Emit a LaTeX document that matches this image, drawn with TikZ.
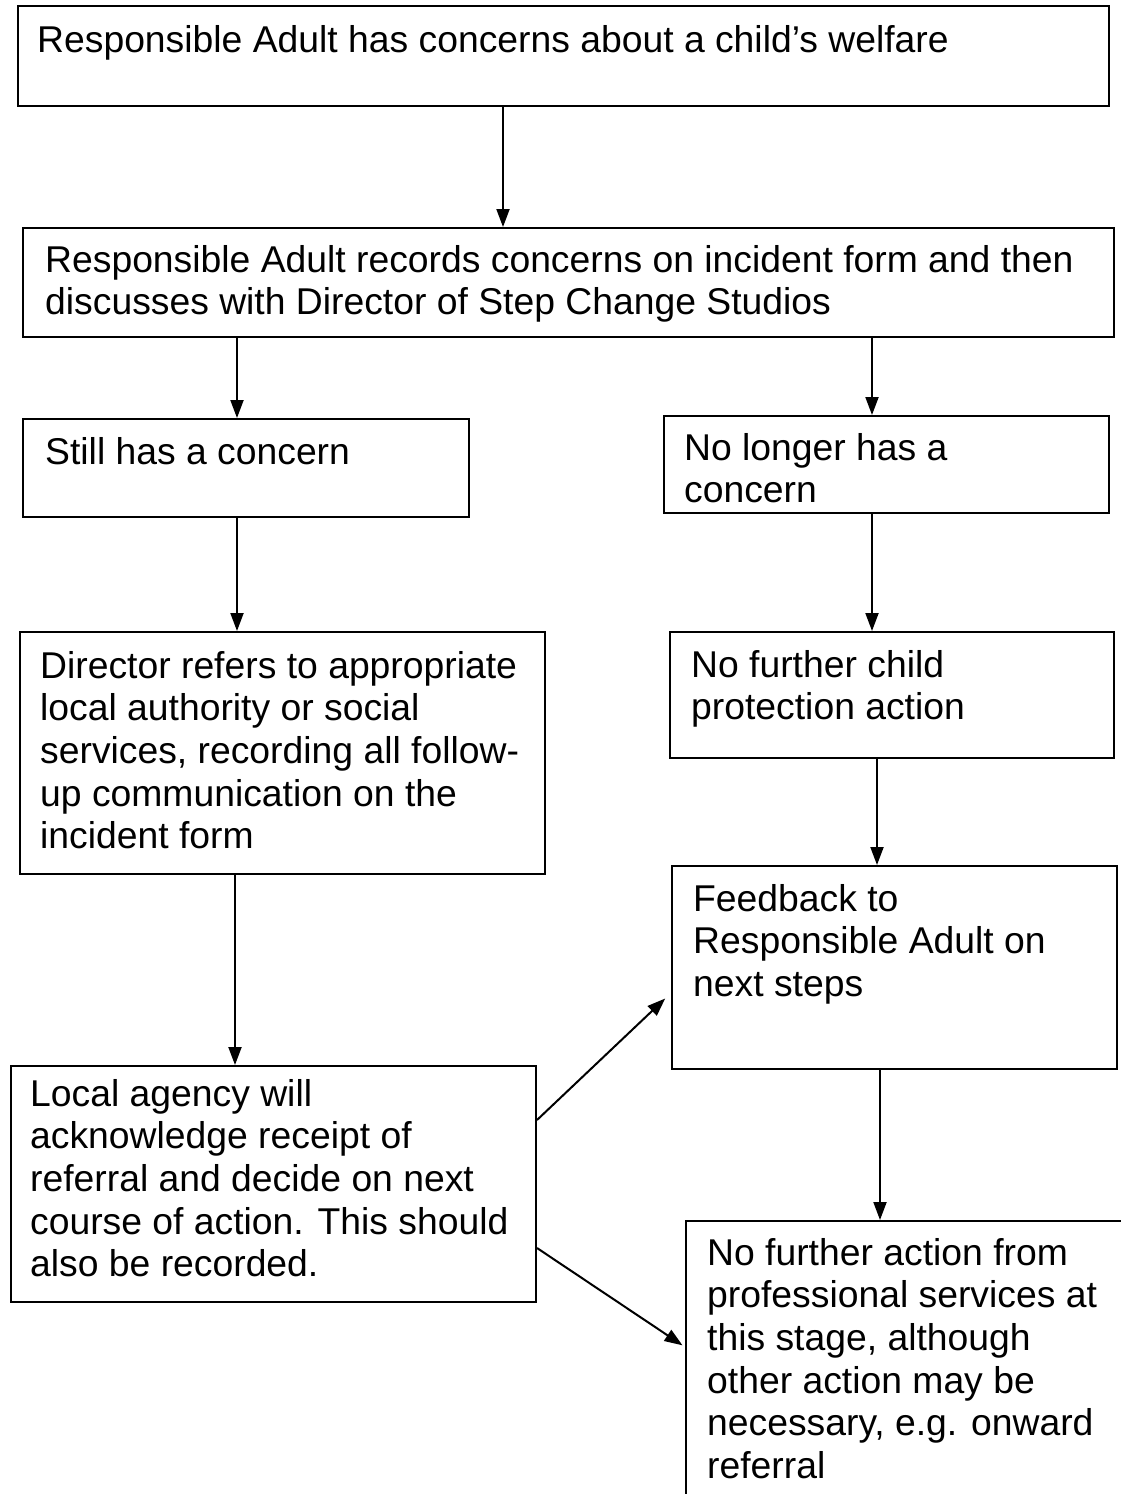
\documentclass[tikz,border=0pt]{standalone}
\usepackage{fontspec}
\setmainfont{Liberation Sans}
\usetikzlibrary{arrows.meta,calc}
\tikzset{
  box/.style={draw, line width=2pt, rectangle, inner sep=0pt, anchor=north west},
  txt/.style={anchor=base west, inner sep=0pt, font=\fontsize{37.3}{42.7}\selectfont},
  arr/.style={line width=2pt, -{Triangle[length=18pt,width=13pt]}},
}
\newcommand{\lns}[1]{\begin{tabular}[t]{@{}l@{}}#1\end{tabular}}
\begin{document}
\begin{tikzpicture}[x=1pt,y=-1pt]
\useasboundingbox (0,0) rectangle (1121,1494);
\clip (0,0) rectangle (1121,1494);
\fill[white] (0,0) rectangle (1121,1494);
% boxes
\node[box, minimum width=1091pt, minimum height=100pt] (b1) at (17,5) {};
\node[box, minimum width=1091pt, minimum height=109pt] (b2) at (22,227) {};
\node[box, minimum width=446pt, minimum height=98pt] (b3) at (22,418) {};
\node[box, minimum width=445pt, minimum height=97pt] (b4) at (663,415) {};
\node[box, minimum width=525pt, minimum height=242pt] (b5) at (19,631) {};
\node[box, minimum width=444pt, minimum height=126pt] (b6) at (669,631) {};
\node[box, minimum width=445pt, minimum height=203pt] (b7) at (671,865) {};
\node[box, minimum width=525pt, minimum height=236pt] (b8) at (10,1065) {};
\node[box, minimum width=460pt, minimum height=300pt] (b9) at (685,1220) {};
% texts
\node[txt] (t1) at (37,52) {Responsible Adult has concerns about a child’s welfare};
\node[txt] (t2) at (45,272) {\lns{Responsible Adult records concerns on incident form and then\\discusses with Director of Step Change Studios}};
\node[txt] (t3) at (45,464) {Still has a concern};
\node[txt] (t4) at (684,460) {\lns{No longer has a\\concern}};
\node[txt] (t5) at (40,678) {\lns{Director refers to appropriate\\local authority or social\\services, recording all follow-\\up communication on the\\incident form}};
\node[txt] (t6) at (691,677) {\lns{No further child\\protection action}};
\node[txt] (t7) at (693,911) {\lns{Feedback to\\Responsible Adult on\\next steps}};
\node[txt] (t8) at (30,1106) {\lns{Local agency will\\acknowledge receipt of\\referral and decide on next\\course of action. This should\\also be recorded.}};
\node[txt] (t9) at (707,1265) {\lns{No further action from\\professional services at\\this stage, although\\other action may be\\necessary, e.g. onward\\referral}};
% arrows
\draw[arr] (503,0 |- b1.south) -- (503,0 |- b2.north);
\draw[arr] (237,0 |- b2.south) -- (237,0 |- b3.north);
\draw[arr] (872,0 |- b2.south) -- (872,0 |- b4.north);
\draw[arr] (237,0 |- b3.south) -- (237,0 |- b5.north);
\draw[arr] (872,0 |- b4.south) -- (872,0 |- b6.north);
\draw[arr] (877,0 |- b6.south) -- (877,0 |- b7.north);
\draw[arr] (235,0 |- b5.south) -- (235,0 |- b8.north);
\draw[arr] (880,0 |- b7.south) -- (880,0 |- b9.north);
\draw[arr, shorten >=8pt] (b8.east |- 0,1120) -- (663,993 -| b7.west);
\draw[arr, shorten >=3pt] (b8.east |- 0,1248) -- (682,1347 -| b9.west);
\end{tikzpicture}
\end{document}
